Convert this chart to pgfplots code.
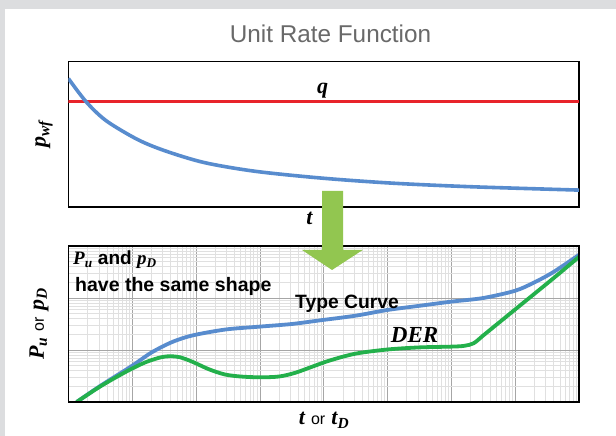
\documentclass[border=0pt]{standalone}
\usepackage{pgfplots}
\pgfplotsset{compat=1.18}
\usepackage{fontspec}
\setmainfont{Liberation Sans}
\newfontfamily\tnr{Liberation Serif}

\definecolor{curveblue}{RGB}{88,140,206}
\definecolor{dergreen}{RGB}{35,176,75}
\definecolor{rateRed}{RGB}{232,35,42}
\definecolor{arrowgreen}{RGB}{146,198,80}
\definecolor{pagegray}{RGB}{220,221,223}
\definecolor{titlegray}{RGB}{105,105,105}

% bold italic serif variable with a subscript
\newcommand{\bvar}[2]{{\tnr\bfseries\itshape #1\textsubscript{#2}}}
\newcommand{\bsym}[1]{{\tnr\bfseries\itshape #1}}

\begin{document}
\begin{tikzpicture}[x=1pt,y=1pt]
\path[use as bounding box, fill=pagegray] (0,0) rectangle (616,436);
\fill[white] (4.6,0) rectangle (616,427);

% title
\node[anchor=base, text=titlegray, font=\fontsize{24.3}{28}\selectfont] at (330.5,393) {Unit Rate Function};

% upper panel: constant rate and the declining flowing pressure
\begin{axis}[
  at={(68.4pt,229pt)}, anchor=south west, scale only axis,
  width=510.6pt, height=145.7pt,
  xmin=0, xmax=10, ymin=0, ymax=10,
  xtick=\empty, ytick=\empty,
  axis line style={line width=1.1pt},
]
\addplot[rateRed, line width=2.6pt] coordinates {(0,7.26) (10,7.26)};
\addplot[curveblue, line width=3.6pt, smooth] coordinates {
  (0,8.82) (0.35,7.21) (0.74,5.92) (1.35,4.64) (1.89,3.86) (2.66,3.05)
  (3.66,2.45) (4.97,1.98) (6.35,1.635) (7.89,1.39) (10,1.16)
};
\end{axis}

% lower panel: log-log type curve and its derivative
\begin{axis}[
  at={(68.4pt,34pt)}, anchor=south west, scale only axis,
  width=510.6pt, height=156pt,
  xmode=log, ymode=log,
  xmin=1, xmax=1e8, ymin=1, ymax=1000,
  xtick={1,10,100,1e3,1e4,1e5,1e6,1e7,1e8},
  ytick={1,10,100,1000},
  xticklabels={}, yticklabels={},
  grid=both,
  major grid style={black!35, line width=0.7pt},
  minor grid style={black!12, line width=0.5pt},
  major tick length=0pt, minor tick length=0pt,
  axis line style={line width=1.1pt},
]
% type curve
\addplot[curveblue, line width=3.8pt, smooth] coordinates {
  (1.349,1) (3.162,2.042) (9.772,4.898) (19.95,8.913) (39.81,13.80)
  (70.79,17.78) (125.9,20.89) (316.2,25.12) (1000,28.18) (3162,31.62)
  (8710,37.15) (31623,45.71) (1e5,58.88) (316228,70.79) (1e6,85.11)
  (3.162e6,100) (1e7,138.0) (1.995e7,199.5) (3.981e7,316.2) (1e8,676.1)
};
% derivative
\addplot[dergreen, line width=3.8pt, smooth] coordinates {
  (1.349,1) (3.162,1.995) (7.943,3.802) (15.85,5.754) (28.18,7.244)
  (39.81,7.586) (56.23,7.244) (89.13,5.888) (158.5,4.266) (281.8,3.388)
  (501.2,3.090) (1000,2.985) (1995,3.090) (3548,3.631) (6310,4.677)
  (12589,6.310) (31623,8.511) (1e5,10.23) (316228,11.22) (1e6,11.61)
  (1.585e6,12.02) (2.239e6,13.49) (3.162e6,19.05) (5.012e6,30.20)
  (1.259e7,75.86) (3.981e7,239.9) (1e8,616.6)
};
\draw[line width=1.1pt] (rel axis cs:0,0) rectangle (rel axis cs:1,1);
\end{axis}

% arrow from the upper panel to the lower one
\fill[arrowgreen] (322,245) -- (343,245) -- (343,186) -- (362.7,186)
  -- (332,166) -- (302,186) -- (322,186) -- cycle;

% labels of the upper panel
\node[rotate=90, font=\fontsize{22}{26}\selectfont] at (44,302) {\bvar{p}{wf}};
\node[anchor=base, font=\fontsize{22}{26}\selectfont] at (322.5,342) {\bsym{q}};
\node[anchor=base, font=\fontsize{22}{26}\selectfont] at (309.5,211) {\bsym{t}};

% labels of the lower panel
\node[anchor=base west, inner sep=0pt, font=\fontsize{19}{22}\selectfont\bfseries] at (73,171)
  {\bvar{P}{u} and \bvar{p}{D}};
\node[anchor=base west, inner sep=0pt, font=\fontsize{19.5}{22}\selectfont\bfseries] at (75,144.3)
  {have the same shape};
\node[anchor=base west, inner sep=0pt, font=\fontsize{19.3}{22}\selectfont\bfseries] at (295,127.7)
  {Type Curve};
\node[anchor=base west, inner sep=0pt, font=\fontsize{23}{26}\selectfont] at (390.7,93)
  {\bsym{DER}};
\node[rotate=90, font=\fontsize{22}{26}\selectfont] at (39,112)
  {\bvar{P}{u} {\fontsize{16}{18}\selectfont or} \bvar{p}{D}};
\node[anchor=base, font=\fontsize{22}{26}\selectfont] at (324,11)
  {\bsym{t} {\fontsize{16}{18}\selectfont or} \bvar{t}{D}};
\end{tikzpicture}
\end{document}
